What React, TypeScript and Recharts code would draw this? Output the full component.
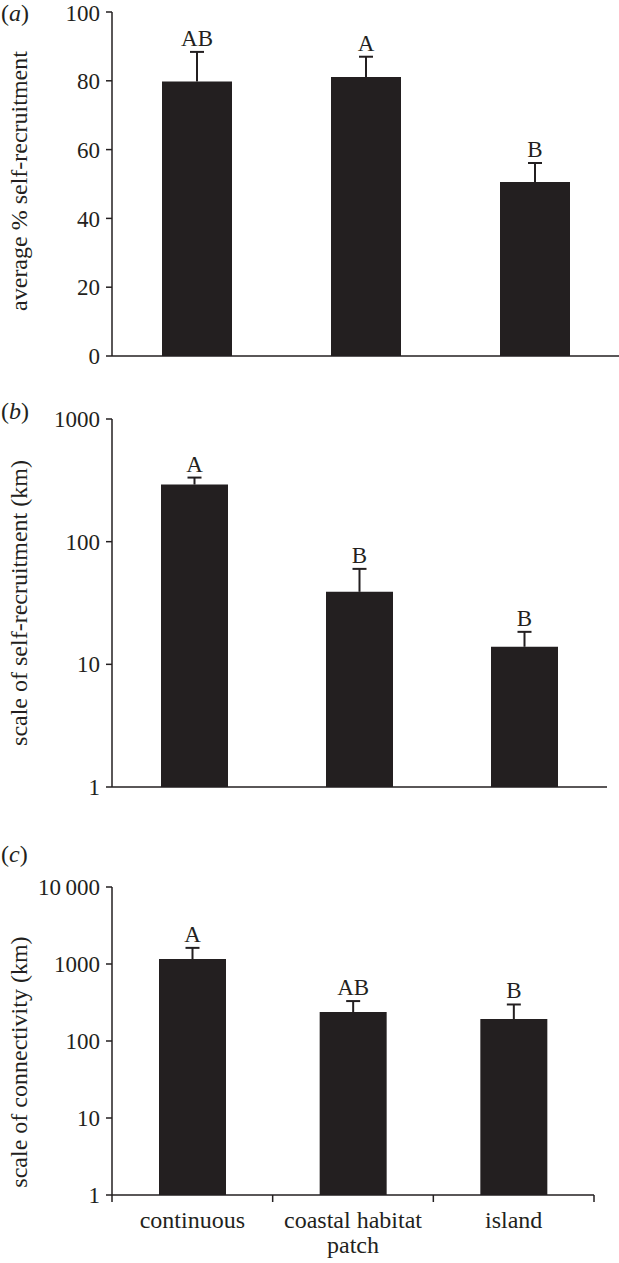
import { ComposedChart, Bar, XAxis, YAxis, LabelList } from "recharts"

const INK = "#231f20"
const FONT = "'Liberation Serif', 'Times New Roman', serif"

const habitats = ["continuous", "coastal habitat patch", "island"]
const habitatLines = [["continuous"], ["coastal habitat", "patch"], ["island"]]

// (a) average % self-recruitment
const pctValues = [79.8, 81.1, 50.6]
const pctErrors = [8.6, 5.9, 5.5]
const pctLetters = ["AB", "A", "B"]
const pctTicks = [0, 20, 40, 60, 80, 100]

// (b) scale of self-recruitment (km)
const selfRecValues = [292, 39, 13.9]
const selfRecErrors = [41, 21, 4.5]
const selfRecLetters = ["A", "B", "B"]
const selfRecTicks = [1, 10, 100, 1000]

// (c) scale of connectivity (km)
const connValues = [1160, 238, 193]
const connErrors = [460, 92, 105]
const connLetters = ["A", "AB", "B"]
const connTicks = [1, 10, 100, 1000, 10000]
const connTickLabels = ["1", "10", "100", "1000", "10\u2009000"]

const buildRows = (values: number[], errors: number[], letters: string[]) =>
  habitats.map((h, i) => ({
    habitat: h,
    value: values[i],
    whisker: [values[i], values[i] + errors[i]],
    letter: letters[i],
  }))

// upper error whisker: stem + cap, drawn as a range bar
const Whisker = ({ x, y, width, height }: any) => {
  if (x == null || y == null) return null
  const cx = x + width / 2
  return (
    <g stroke={INK} strokeWidth={2}>
      <line x1={cx} y1={y} x2={cx} y2={y + height} />
      <line x1={cx - 7} y1={y} x2={cx + 7} y2={y} />
    </g>
  )
}

// rotated y axis title, baseline kept at a fixed x
const YTitle = ({ viewBox, title, shift = 0 }: any) => {
  const cx = 27
  const cy = viewBox.y + viewBox.height / 2 + shift
  return (
    <text x={cx} y={cy} transform={`rotate(-90 ${cx} ${cy})`} textAnchor="middle" fontSize={24} fill={INK}>
      {title}
    </text>
  )
}

// category labels with tick marks on the band edges
const HabitatTick = ({ x, y, payload }: any) => {
  const i = habitats.indexOf(payload.value)
  const half = payload.offset ?? 0
  const lines = habitatLines[i] || [payload.value]
  return (
    <g>
      <line x1={x - half} y1={y} x2={x - half} y2={y + 7} stroke={INK} strokeWidth={1.5} />
      {i === habitats.length - 1 && (
        <line x1={x + half} y1={y} x2={x + half} y2={y + 7} stroke={INK} strokeWidth={1.5} />
      )}
      {lines.map((t, k) => (
        <text key={k} x={x} y={y + 33 + k * 25} textAnchor="middle" fontSize={24} fill={INK}>
          {t}
        </text>
      ))}
    </g>
  )
}

const Panel = ({ rows, top, height, margin, xHeight, yAxis, title, titleShift, labels, barSize }: any) => (
  <div style={{ position: "absolute", left: 0, top }}>
    <ComposedChart width={619} height={height} data={rows} margin={margin}>
      <XAxis
        dataKey="habitat"
        height={xHeight}
        axisLine={{ stroke: INK, strokeWidth: 1.5 }}
        tickLine={false}
        tickSize={0}
        tickMargin={0}
        interval={0}
        tick={labels ? <HabitatTick /> : false}
      />
      <XAxis xAxisId="w" dataKey="habitat" hide />
      <YAxis
        width={112}
        type="number"
        allowDataOverflow
        tickSize={6}
        tickMargin={6}
        axisLine={{ stroke: INK, strokeWidth: 1.5 }}
        tickLine={{ stroke: INK, strokeWidth: 1.5 }}
        tick={{ fontSize: 23, fill: INK }}
        label={<YTitle title={title} shift={titleShift} />}
        {...yAxis}
      />
      <Bar dataKey="whisker" xAxisId="w" barSize={barSize} shape={<Whisker />} isAnimationActive={false}>
        <LabelList dataKey="letter" position="top" offset={6} fill={INK} fontSize={23} />
      </Bar>
      <Bar dataKey="value" fill={INK} barSize={barSize} isAnimationActive={false} />
    </ComposedChart>
  </div>
)

const PanelTag = ({ letter, top }: { letter: string; top: number }) => (
  <div style={{ position: "absolute", left: 1, top, fontSize: 24, lineHeight: "24px", color: INK }}>
    (<i>{letter}</i>)
  </div>
)

export default function App() {
  return (
    <div
      style={{
        position: "absolute",
        left: 0,
        top: 0,
        width: 619,
        height: 1263,
        background: "#fff",
        fontFamily: FONT,
      }}
    >
      <Panel
        rows={buildRows(pctValues, pctErrors, pctLetters)}
        top={0}
        height={380}
        margin={{ top: 12, right: 0, bottom: 0, left: 0 }}
        xHeight={24}
        barSize={70}
        title="average % self-recruitment"
        titleShift={-3}
        yAxis={{ domain: [0, 100], ticks: pctTicks }}
      />
      <Panel
        rows={buildRows(selfRecValues, selfRecErrors, selfRecLetters)}
        top={380}
        height={427}
        margin={{ top: 39, right: 12, bottom: 0, left: 0 }}
        xHeight={20}
        barSize={67}
        title="scale of self-recruitment (km)"
        titleShift={0}
        yAxis={{ scale: "log", domain: [1, 1000], ticks: selfRecTicks }}
      />
      <Panel
        rows={buildRows(connValues, connErrors, connLetters)}
        top={807}
        height={456}
        margin={{ top: 80, right: 25, bottom: 0, left: 0 }}
        xHeight={68}
        barSize={67}
        labels
        title="scale of connectivity (km)"
        titleShift={21}
        yAxis={{
          scale: "log",
          domain: [1, 10000],
          ticks: connTicks,
          tickFormatter: (v: number) => connTickLabels[connTicks.indexOf(v)] ?? String(v),
        }}
      />
      <PanelTag letter="a" top={1} />
      <PanelTag letter="b" top={399} />
      <PanelTag letter="c" top={842} />
    </div>
  )
}
